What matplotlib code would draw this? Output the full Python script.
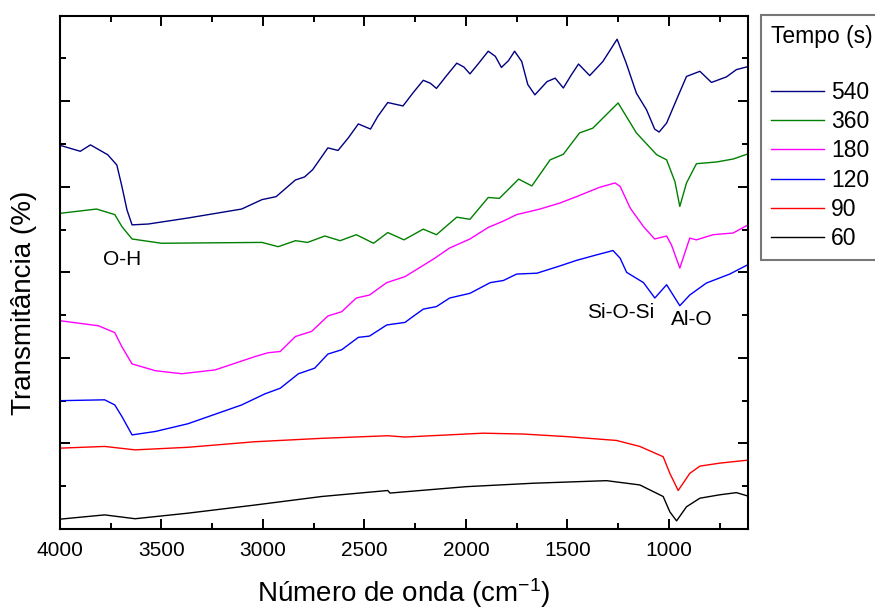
import matplotlib
matplotlib.use("Agg")
import matplotlib.pyplot as plt

plt.rcParams['font.family'] = ['Liberation Sans', 'DejaVu Sans']
plt.rcParams['mathtext.fontset'] = 'custom'
plt.rcParams['mathtext.rm'] = 'Liberation Sans'
plt.rcParams['mathtext.it'] = 'Liberation Sans:italic'

# spectra (wavenumber cm-1, offset transmittance)
wn_540 = [4000, 3900, 3850, 3765, 3720, 3695, 3670, 3645, 3565, 3370, 3105, 3005,
          2935, 2840, 2795, 2755, 2680, 2630, 2580, 2530, 2470, 2435, 2385, 2310,
          2260, 2210, 2175, 2145, 2095, 2045, 2010, 1980, 1935, 1890, 1855, 1825,
          1790, 1760, 1725, 1695, 1660, 1600, 1560, 1520, 1480, 1445, 1390, 1325,
          1255, 1210, 1160, 1110, 1070, 1048, 1011, 962, 913, 847, 790, 716, 667, 610]
t_540 = [8.97, 8.83, 8.98, 8.75, 8.51, 8.01, 7.46, 7.11, 7.13, 7.27, 7.48, 7.70,
         7.77, 8.16, 8.23, 8.40, 8.91, 8.85, 9.14, 9.47, 9.35, 9.64, 9.97, 9.89,
         10.20, 10.49, 10.42, 10.30, 10.60, 10.89, 10.80, 10.64, 10.90, 11.17, 11.05, 10.79,
         10.95, 11.17, 10.93, 10.39, 10.15, 10.46, 10.54, 10.31, 10.62, 10.87, 10.60, 10.93,
         11.45, 10.89, 10.19, 9.80, 9.35, 9.28, 9.49, 10.04, 10.58, 10.70, 10.44, 10.57, 10.74, 10.81]

wn_360 = [4000, 3820, 3730, 3695, 3645, 3500, 3005, 2925, 2840, 2780, 2695, 2620,
          2540, 2455, 2385, 2305, 2210, 2145, 2045, 1980, 1890, 1835, 1740, 1675,
          1585, 1520, 1440, 1375, 1250, 1160, 1060, 1011, 970, 946, 913, 864,
          765, 683, 610]
t_360 = [7.38, 7.48, 7.35, 7.07, 6.78, 6.68, 6.70, 6.60, 6.74, 6.70, 6.85, 6.74,
         6.88, 6.68, 6.93, 6.76, 7.01, 6.88, 7.29, 7.24, 7.75, 7.73, 8.18, 8.02,
         8.63, 8.76, 9.26, 9.37, 9.96, 9.26, 8.75, 8.63, 8.12, 7.54, 8.09, 8.54,
         8.58, 8.65, 8.77]

wn_180 = [4000, 3810, 3730, 3695, 3645, 3530, 3400, 3235, 3040, 2975, 2915, 2840,
          2760, 2680, 2612, 2540, 2475, 2390, 2300, 2160, 2080, 1980, 1890, 1815,
          1750, 1635, 1537, 1455, 1340, 1265, 1240, 1190, 1125, 1070, 1011, 987,
          946, 897, 864, 782, 683, 610]
t_180 = [4.87, 4.75, 4.59, 4.26, 3.86, 3.70, 3.63, 3.72, 4.03, 4.12, 4.15, 4.50,
         4.62, 4.98, 5.08, 5.40, 5.47, 5.76, 5.90, 6.31, 6.57, 6.78, 7.05, 7.20,
         7.35, 7.48, 7.62, 7.77, 7.99, 8.09, 8.01, 7.50, 7.07, 6.78, 6.85, 6.64,
         6.10, 6.80, 6.76, 6.88, 6.92, 7.11]

wn_120 = [4000, 3780, 3730, 3695, 3645, 3530, 3370, 3105, 2990, 2915, 2825, 2745,
          2680, 2612, 2530, 2475, 2390, 2300, 2260, 2210, 2145, 2080, 1980, 1880,
          1815, 1750, 1650, 1537, 1455, 1355, 1275, 1240, 1208, 1125, 1069, 1011,
          946, 897, 815, 700, 610]
t_120 = [3.00, 3.02, 2.90, 2.63, 2.20, 2.28, 2.46, 2.90, 3.16, 3.29, 3.63, 3.76,
         4.09, 4.19, 4.48, 4.51, 4.77, 4.83, 4.97, 5.14, 5.20, 5.40, 5.51, 5.76,
         5.81, 5.96, 5.98, 6.15, 6.28, 6.41, 6.51, 6.33, 6.00, 5.76, 5.40, 5.71,
         5.22, 5.47, 5.75, 5.96, 6.18]

wn_90 = [4000, 3780, 3630, 3370, 3040, 2710, 2385, 2300, 1915, 1718, 1504, 1258,
         1143, 1028, 995, 954, 897, 847, 749, 610]
t_90 = [1.89, 1.93, 1.85, 1.91, 2.04, 2.12, 2.18, 2.15, 2.24, 2.22, 2.16, 2.07,
        1.93, 1.69, 1.30, 0.90, 1.30, 1.47, 1.54, 1.61]

wn_60 = [4000, 3780, 3630, 3370, 3040, 2710, 2385, 2374, 2300, 1997, 1668, 1307,
         1143, 1028, 995, 962, 913, 847, 749, 667, 610]
t_60 = [0.23, 0.33, 0.24, 0.37, 0.56, 0.76, 0.90, 0.84, 0.87, 0.99, 1.07, 1.13,
        1.03, 0.76, 0.40, 0.19, 0.52, 0.72, 0.80, 0.85, 0.77]

labels = ['540', '360', '180', '120', '90', '60']
colors = ['#000080', '#008000', '#ff00ff', '#0000ff', '#ff0000', '#000000']

fig = plt.figure(figsize=(8.75, 6.09), dpi=100)
ax = fig.add_axes([60/875, 80/609, 688/875, 513.3/609])

series = [(wn_540, t_540), (wn_360, t_360), (wn_180, t_180),
          (wn_120, t_120), (wn_90, t_90), (wn_60, t_60)]
for (x, y), lab, c in zip(series, labels, colors):
    ax.plot(x, y, color=c, lw=1.0, label=lab)

ax.set_xlim(4000, 610)
ax.set_ylim(0, 12)
ax.set_xticks([4000, 3500, 3000, 2500, 2000, 1500, 1000])
ax.set_xticks(range(3750, 600, -500), minor=True)
ax.set_yticks(range(0, 13, 2))
ax.set_yticks(range(1, 13, 2), minor=True)
ax.set_yticklabels([])
ax.tick_params(which='both', direction='in', top=True, right=True, width=1.4)
ax.tick_params(which='major', length=7.5, labelsize=15, pad=9)
ax.tick_params(which='minor', length=4)
for s in ax.spines.values():
    s.set_linewidth(1.5)

ax.set_xlabel('Número de onda (cm$^{-1}$)', fontsize=20, va='center')
ax.set_ylabel('Transmitância (%)', fontsize=20, va='center')
ax.xaxis.set_label_coords(0.5, -0.124)
ax.yaxis.set_label_coords(-0.052, 0.44)

ax.text(3790, 6.29, 'O-H', fontsize=15, va='center', ha='left')
ax.text(1405, 5.05, 'Si-O-Si', fontsize=15, va='center', ha='left')
ax.text(990, 4.89, 'Al-O', fontsize=15, va='center', ha='left')

leg = ax.legend(title='Tempo (s)\n', loc='upper left',
                bbox_to_anchor=(761/875, 1 - 15/609), bbox_transform=fig.transFigure,
                borderaxespad=0, fontsize=16.5, title_fontsize=16.5,
                handlelength=2.3, handletextpad=0.3, labelspacing=0.27,
                fancybox=False, alignment='left', borderpad=0.45)
leg.get_frame().set_edgecolor('#555555')
leg.get_frame().set_linewidth(1.5)

fig.savefig('out.png', dpi=100)
